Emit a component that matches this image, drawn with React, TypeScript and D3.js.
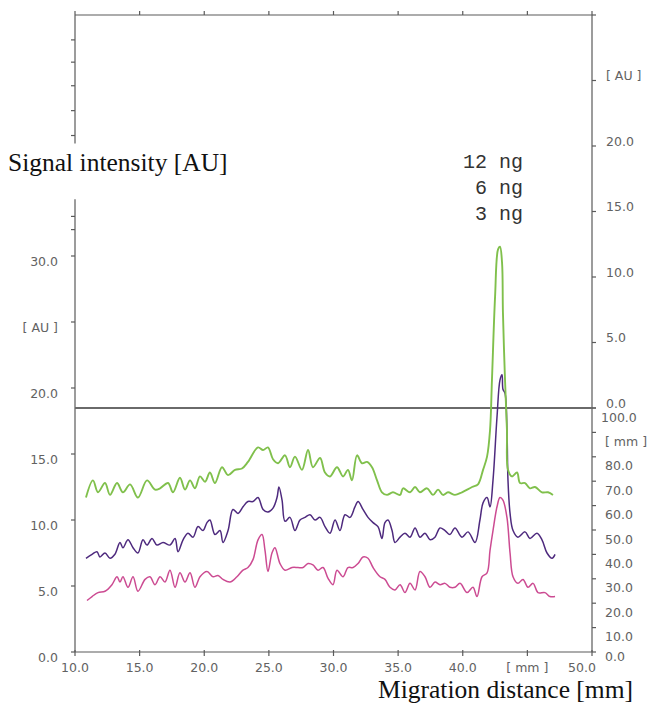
import React, { useEffect, useRef } from 'react';
import * as d3 from 'd3';

// traces: [migration distance mm, signal AU]
const trace12ng = [
  [10.85, 11.7], [11.39, 13.0], [11.78, 12.1], [12.32, 12.8], [12.71, 11.9], [13.25, 12.8],
  [13.71, 12.1], [14.26, 12.7], [14.87, 11.7], [15.57, 13.0], [16.19, 12.3], [16.58, 12.4],
  [17.2, 12.8], [17.58, 12.1], [18.12, 13.2], [18.51, 12.3], [18.9, 13.0], [19.28, 12.4],
  [19.67, 13.3], [20.06, 12.9], [20.44, 13.6], [20.83, 12.8], [21.37, 14.0], [21.84, 13.4],
  [22.38, 13.8], [22.92, 13.9], [23.38, 14.4], [24.16, 15.5], [24.55, 15.3], [24.93, 15.5],
  [25.32, 14.6], [25.71, 14.3], [26.25, 14.9], [26.63, 14.0], [27.02, 14.8], [27.56, 13.8],
  [28.03, 15.3], [28.41, 14.0], [28.96, 14.7], [29.34, 13.6], [29.73, 13.3], [30.27, 14.0],
  [30.74, 13.3], [31.12, 13.8], [31.43, 13.0], [31.82, 14.9], [32.21, 14.3], [32.59, 14.4],
  [32.98, 14.0], [33.37, 13.0], [33.75, 12.1], [34.14, 11.9], [34.6, 12.1], [35.15, 11.9],
  [35.38, 12.4], [35.92, 12.1], [36.31, 12.5], [36.69, 12.1], [37.23, 12.4], [37.7, 11.9],
  [38.09, 12.3], [38.47, 11.9], [38.86, 12.1], [39.4, 11.9], [39.94, 12.1], [40.72, 12.5],
  [41.18, 12.7], [41.57, 13.8], [41.88, 14.8], [42.11, 16.8], [42.26, 20.6], [42.5, 26.9],
  [42.73, 30.5], [42.88, 30.7], [43.04, 29.5], [43.11, 25.7], [43.27, 20.6], [43.42, 16.8],
  [43.5, 13.8], [43.81, 13.3], [44.2, 13.6], [44.43, 12.8], [44.82, 12.8], [45.2, 12.4],
  [45.59, 12.5], [46.13, 12.1], [46.6, 12.1], [46.98, 11.9]
];

const trace6ng = [
  [10.85, 7.1], [11.32, 7.4], [11.7, 7.6], [11.93, 7.2], [12.32, 7.5], [12.71, 7.1],
  [13.09, 7.4], [13.48, 8.3], [13.71, 7.9], [14.1, 8.5], [14.49, 7.9], [14.87, 7.5],
  [15.26, 8.5], [15.57, 8.1], [15.96, 8.6], [16.34, 8.1], [16.81, 8.3], [17.35, 8.1],
  [17.74, 8.6], [17.97, 7.6], [18.36, 8.5], [18.74, 9.0], [19.13, 8.7], [19.52, 9.5],
  [19.9, 9.2], [20.21, 9.8], [20.44, 10.0], [20.83, 8.9], [21.22, 9.2], [21.45, 8.3],
  [21.84, 9.2], [22.22, 10.8], [22.61, 10.5], [23.0, 11.0], [23.38, 11.4], [23.77, 11.4],
  [24.16, 11.7], [24.55, 10.8], [24.93, 10.6], [25.32, 10.9], [25.63, 11.7], [25.78, 12.5],
  [26.02, 11.5], [26.25, 9.9], [26.63, 10.2], [27.02, 9.2], [27.41, 10.0], [27.8, 10.2],
  [28.18, 10.4], [28.57, 10.0], [28.96, 10.2], [29.34, 9.5], [29.73, 9.0], [30.12, 10.0],
  [30.5, 9.2], [30.89, 10.4], [31.28, 10.2], [31.66, 11.0], [31.9, 11.4], [32.28, 10.8],
  [32.67, 10.2], [33.06, 9.8], [33.44, 9.5], [33.75, 8.6], [33.98, 9.8], [34.22, 10.0],
  [34.53, 9.2], [34.76, 8.3], [35.15, 8.7], [35.53, 9.0], [35.92, 8.7], [36.31, 9.4],
  [36.69, 8.7], [37.08, 9.0], [37.47, 8.5], [37.85, 8.7], [38.24, 9.4], [38.63, 9.2],
  [39.01, 8.9], [39.4, 9.4], [39.94, 8.7], [40.41, 9.1], [40.95, 8.3], [41.33, 10.0],
  [41.57, 11.3], [41.88, 11.7], [42.11, 11.0], [42.34, 13.0], [42.65, 17.8], [42.88, 20.6],
  [43.04, 21.0], [43.11, 19.9], [43.27, 19.6], [43.42, 16.8], [43.5, 13.0], [43.66, 10.5],
  [43.89, 9.2], [44.27, 8.7], [44.82, 9.1], [45.2, 8.6], [45.74, 9.0], [46.13, 8.5],
  [46.52, 7.5], [46.91, 7.1], [47.14, 7.4]
];

const trace3ng = [
  [10.93, 3.9], [11.32, 4.2], [11.78, 4.5], [12.32, 4.6], [12.86, 5.1], [13.25, 5.7],
  [13.48, 5.3], [13.71, 5.7], [14.1, 4.9], [14.49, 5.7], [14.87, 4.6], [15.42, 5.5],
  [15.8, 5.7], [16.19, 5.1], [16.58, 5.7], [16.96, 5.3], [17.35, 6.2], [17.74, 4.9],
  [18.12, 6.0], [18.51, 5.3], [18.9, 6.0], [19.28, 4.9], [19.67, 5.7], [20.21, 6.1],
  [20.68, 5.7], [21.06, 5.8], [21.45, 5.5], [21.99, 5.3], [22.53, 5.7], [23.0, 6.2],
  [23.38, 6.4], [23.77, 7.0], [24.16, 8.5], [24.47, 8.9], [24.7, 7.7], [24.93, 6.1],
  [25.24, 7.5], [25.47, 7.9], [25.86, 6.7], [26.25, 6.2], [26.79, 6.4], [27.25, 6.4],
  [27.64, 6.4], [28.03, 6.7], [28.41, 6.6], [28.8, 6.2], [29.19, 6.4], [29.57, 5.6],
  [29.96, 5.1], [30.27, 6.2], [30.74, 5.7], [31.12, 6.4], [31.51, 6.4], [31.9, 6.7],
  [32.28, 7.2], [32.67, 7.1], [33.06, 6.4], [33.6, 5.7], [33.98, 5.5], [34.37, 4.9],
  [34.76, 4.7], [35.15, 5.1], [35.53, 4.5], [35.92, 5.2], [36.31, 4.7], [36.69, 6.1],
  [37.08, 5.7], [37.47, 4.9], [37.85, 5.3], [38.24, 5.1], [38.63, 5.2], [39.01, 4.9],
  [39.4, 4.9], [39.79, 5.2], [40.33, 4.5], [40.79, 4.9], [41.1, 4.2], [41.49, 5.7],
  [41.88, 6.0], [42.11, 7.7], [42.34, 9.2], [42.65, 11.0], [42.88, 11.7], [43.11, 11.5],
  [43.42, 10.2], [43.66, 7.5], [43.89, 5.7], [44.27, 5.2], [44.66, 5.5], [45.05, 4.9],
  [45.44, 5.2], [45.82, 4.5], [46.36, 4.5], [46.75, 4.2], [47.14, 4.2]
];

const series = [
  { name: '3 ng', data: trace3ng, color: '#cc4b92', width: 1.5 },
  { name: '6 ng', data: trace6ng, color: '#4e2a7e', width: 1.5 },
  { name: '12 ng', data: trace12ng, color: '#80c04c', width: 1.9 }
];
const amountLabels = ['12 ng', '6 ng', '3 ng'];

const xTicks = [10, 15, 20, 25, 30, 35, 40, 45, 50];
const xTickLabels = ['10.0', '15.0', '20.0', '25.0', '30.0', '35.0', '40.0', '[ mm ]', '50.0'];
const leftTicks = [0, 5, 10, 15, 20, 25, 30, 32, 33];
const leftTickLabels = ['0.0', '5.0', '10.0', '15.0', '20.0', '[ AU ]', '30.0', '', ''];
const upperLeftTicks = [28.1, 26.4, 24.6, 22.7, 20.8];
const rightUpperTicks = [0, 5, 10, 15, 20, 25, 30];
const rightUpperLabels = ['0.0', '5.0', '10.0', '15.0', '20.0', '[ AU ]', ''];
const rightLowerTicks = [0, 10, 20, 30, 40, 50, 60, 70, 80, 90, 100];
const rightLowerLabels = ['0.0', '10.0', '20.0', '30.0', '40.0', '50.0', '60.0', '70.0', '80.0', '[ mm ]', '100.0'];

const W = 647;
const H = 715;

export default function App() {
  const ref = useRef<SVGSVGElement>(null);

  useEffect(() => {
    const svg = d3.select(ref.current);
    svg.selectAll('*').remove();

    const x = d3.scaleLinear().domain([10, 50]).range([75, 592]);
    const yLow = d3.scaleLinear().domain([0, 30]).range([652, 256]); // left axis, AU
    const yUp = d3.scaleLinear().domain([0, 30]).range([408, 15]); // right upper axis, AU
    const yMm = d3.scaleLinear().domain([0, 100]).range([652, 408]); // right lower axis, mm

    const axisColor = '#5a5a5a';
    const labelFont = '"DejaVu Sans", sans-serif';
    const tick = 4;

    svg.append('rect').attr('width', W).attr('height', H).attr('fill', '#fff');

    const frame = svg.append('g').attr('stroke', axisColor).attr('stroke-width', 1.2).attr('fill', 'none');
    // top and bottom edges
    frame.append('line').attr('x1', x(10)).attr('x2', x(50)).attr('y1', yUp(30)).attr('y2', yUp(30));
    frame.append('line').attr('x1', x(10)).attr('x2', x(50)).attr('y1', yLow(0)).attr('y2', yLow(0));
    // right edge
    frame.append('line').attr('x1', x(50)).attr('x2', x(50)).attr('y1', yUp(30)).attr('y2', yLow(0));
    // left edge, broken where the axis title sits
    frame.append('line').attr('x1', x(10)).attr('x2', x(10)).attr('y1', yUp(30)).attr('y2', yUp(20.2));
    frame.append('line').attr('x1', x(10)).attr('x2', x(10)).attr('y1', yLow(34.3)).attr('y2', yLow(0));

    // x ticks, top and bottom
    xTicks.forEach((t) => {
      frame.append('line').attr('x1', x(t)).attr('x2', x(t)).attr('y1', yUp(30)).attr('y2', yUp(30) - tick);
      frame.append('line').attr('x1', x(t)).attr('x2', x(t)).attr('y1', yLow(0) - 2).attr('y2', yLow(0) + tick);
    });
    leftTicks.forEach((t) => {
      frame.append('line').attr('x1', x(10) - tick).attr('x2', x(10)).attr('y1', yLow(t)).attr('y2', yLow(t));
    });
    upperLeftTicks.forEach((t) => {
      frame.append('line').attr('x1', x(10) - tick).attr('x2', x(10)).attr('y1', yUp(t)).attr('y2', yUp(t));
    });
    rightUpperTicks.forEach((t) => {
      frame.append('line').attr('x1', x(50)).attr('x2', x(50) + tick).attr('y1', yUp(t)).attr('y2', yUp(t));
    });
    rightLowerTicks.forEach((t) => {
      frame.append('line').attr('x1', x(50)).attr('x2', x(50) + tick).attr('y1', yMm(t)).attr('y2', yMm(t));
    });

    // divider between the two stacked charts
    svg.append('line')
      .attr('x1', x(10)).attr('x2', x(50))
      .attr('y1', yUp(0)).attr('y2', yUp(0))
      .attr('stroke', '#6a6a6a').attr('stroke-width', 2);

    const labels = svg.append('g')
      .attr('font-family', labelFont)
      .attr('font-size', 12.5)
      .attr('fill', '#626262')
      .attr('dominant-baseline', 'middle');

    xTicks.forEach((t, i) => {
      labels.append('text')
        .attr('x', x(t) + (t === 50 ? -10 : 0))
        .attr('y', yLow(0) + 16)
        .attr('text-anchor', 'middle')
        .text(xTickLabels[i]);
    });
    leftTicks.forEach((t, i) => {
      if (!leftTickLabels[i]) return;
      labels.append('text')
        .attr('x', x(10) - 17)
        .attr('y', yLow(t) + 6)
        .attr('text-anchor', 'end')
        .text(leftTickLabels[i]);
    });
    rightUpperTicks.forEach((t, i) => {
      if (!rightUpperLabels[i]) return;
      labels.append('text')
        .attr('x', x(50) + 14)
        .attr('y', yUp(t) - 4)
        .text(rightUpperLabels[i]);
    });
    rightLowerTicks.forEach((t, i) => {
      labels.append('text')
        .attr('x', x(50) + (t === 100 ? 9 : 13))
        .attr('y', yMm(t) + (t === 0 ? 5 : 10))
        .text(rightLowerLabels[i]);
    });

    // the three densitogram traces
    const line = d3.line<number[]>()
      .x((d) => x(d[0]))
      .y((d) => yLow(d[1]))
      .curve(d3.curveCatmullRom.alpha(0.5));

    series.forEach((s) => {
      svg.append('path')
        .datum(s.data)
        .attr('d', line)
        .attr('fill', 'none')
        .attr('stroke', s.color)
        .attr('stroke-width', s.width)
        .attr('stroke-linejoin', 'round');
    });

    // amount labels above the peak
    amountLabels.forEach((a, i) => {
      svg.append('text')
        .attr('x', 523)
        .attr('y', 163 + i * 26)
        .attr('text-anchor', 'end')
        .attr('dominant-baseline', 'middle')
        .attr('font-family', '"Liberation Mono", monospace')
        .attr('font-size', 20)
        .attr('fill', '#333')
        .attr('xml:space', 'preserve')
        .text(a);
    });

    // axis titles
    svg.append('text')
      .attr('x', 8)
      .attr('y', 165)
      .attr('dominant-baseline', 'middle')
      .attr('font-family', '"Liberation Serif", serif')
      .attr('font-size', 25.5)
      .attr('fill', '#111')
      .text('Signal intensity [AU]');
    svg.append('text')
      .attr('x', 633)
      .attr('y', 692)
      .attr('text-anchor', 'end')
      .attr('dominant-baseline', 'middle')
      .attr('font-family', '"Liberation Serif", serif')
      .attr('font-size', 25.5)
      .attr('fill', '#111')
      .text('Migration distance [mm]');
  }, []);

  return (
    <svg
      ref={ref}
      width={W}
      height={H}
      style={{ position: 'absolute', left: 0, top: 0, display: 'block' }}
    />
  );
}
